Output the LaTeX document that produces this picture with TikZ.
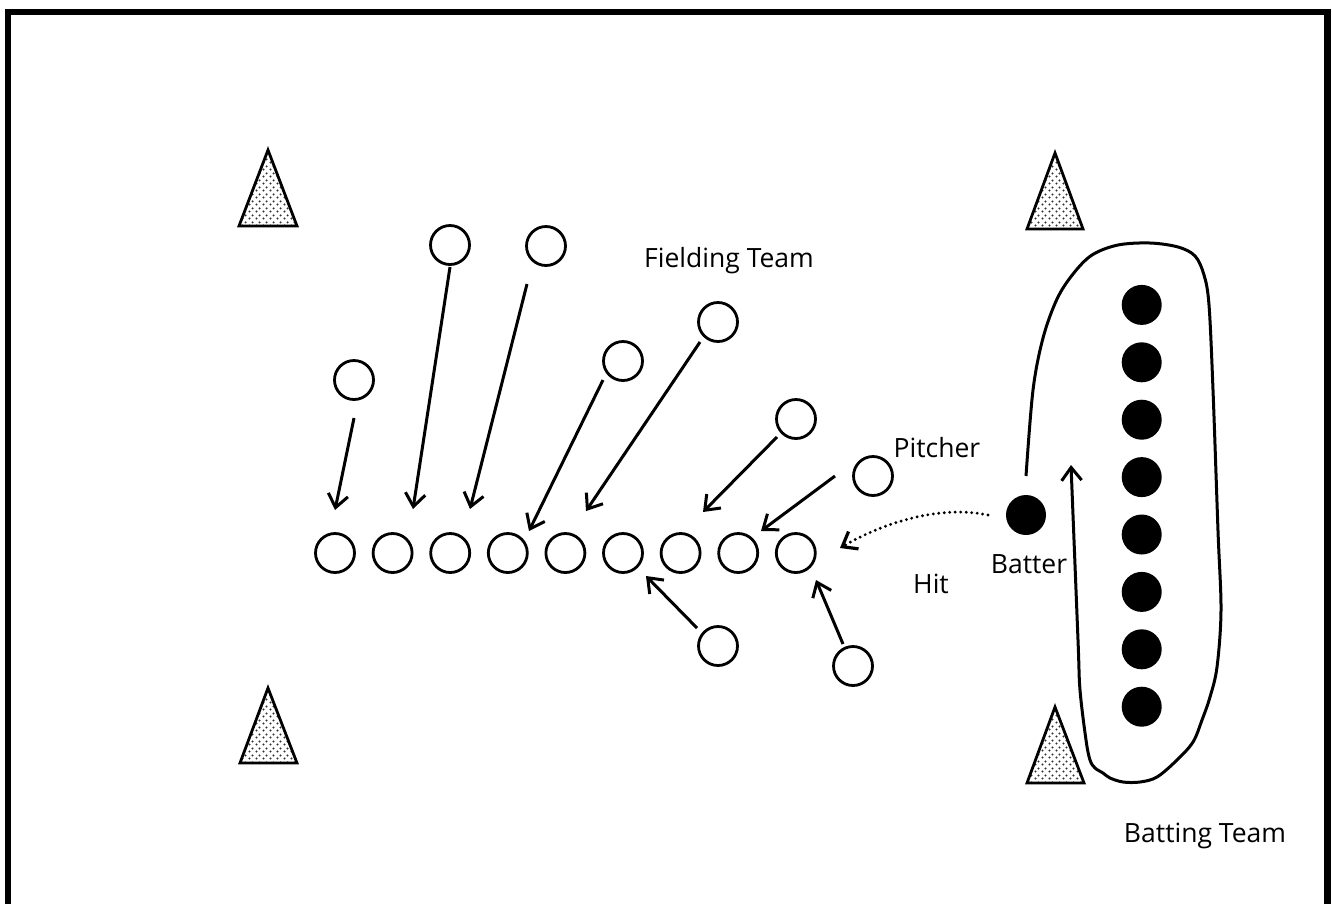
\documentclass[tikz,border=0pt]{standalone}
\usepackage{fontspec}
\setmainfont{Open Sans}
\usetikzlibrary{arrows.meta,patterns.meta}

% speckled fill used for the cones
\tikzdeclarepattern{
  name=conedots,
  type=colored,
  bottom left={(0pt,0pt)},
  top right={(6.5pt,6.5pt)},
  tile size={(6.5pt,6.5pt)},
  code={
    \fill[black!80] (1.6pt,1.6pt) circle (1.2pt);
    \fill[black!80] (4.85pt,4.85pt) circle (1.2pt);
  }
}

\tikzset{
  fielder/.style={circle, draw, line width=2.8pt, minimum size=39pt, inner sep=0pt},
  batsman/.style={circle, fill, minimum size=40pt, inner sep=0pt},
  arr/.style={line width=3pt, -{Straight Barb[length=13pt,width=20pt]}},
  hitline/.style={arr, line width=3.2pt, dash pattern=on 0pt off 5.5pt, line cap=round},
  cone/.style={draw, line width=2.8pt, line join=miter, pattern=conedots},
  lbl/.style={font=\fontsize{26.5}{30}\selectfont, inner sep=0pt, anchor=base},
  frame/.style={line width=6.5pt, line join=miter}
}

\begin{document}
\begin{tikzpicture}[x=1pt, y=-1pt]
\useasboundingbox (0,0) rectangle (1332,903);
\clip (0,0) rectangle (1332,903);

% field boundary (open at the bottom)
\draw[frame] (8,920) -- (8,12) -- (1327.5,12) -- (1327.5,920);

% corner cones
\draw[cone] (268,150) -- (239,226) -- (297,226) -- cycle;
\draw[cone] (1055,153) -- (1027,229) -- (1083,229) -- cycle;
\draw[cone] (268,688) -- (240,763) -- (297,763) -- cycle;
\draw[cone] (1055,707) -- (1027,783) -- (1084,783) -- cycle;

% fielders lined up after the hit
\foreach \i in {1,...,9}
  \node[fielder] (r\i) at ({335+57.6*(\i-1)},553) {};

% fielders in their starting positions
\node[fielder] (pA) at (354,380) {};
\node[fielder] (pB) at (450,245) {};
\node[fielder] (pC) at (546,246) {};
\node[fielder] (pD) at (623,361) {};
\node[fielder] (pE) at (718,322) {};
\node[fielder] (pF) at (796,419) {};
\node[fielder] (pG) at (873,476) {};
\node[fielder] (pH) at (718,646) {};
\node[fielder] (pI) at (853,666) {};

% arrow ends in front of the line
\coordinate (tA) at (335,510);
\coordinate (tB) at (413,509);
\coordinate (tC) at (470,509);
\coordinate (tD) at (529,531);
\coordinate (tE) at (586,511);
\coordinate (tF) at (703,512);
\coordinate (tG) at (761,531);
\coordinate (tH) at (646,576);
\coordinate (tI) at (816,580);
\coordinate (tHit) at (840,548);

% runs to the line
\draw[arr] ([shift={(0,38)}]pA.center) -- (tA);
\draw[arr] ([shift={(0,22)}]pB.center) -- (tB);
\draw[arr] ([shift={(-19,38)}]pC.center) -- (tC);
\draw[arr] ([shift={(-20,19)}]pD.center) -- (tD);
\draw[arr] ([shift={(-18,20)}]pE.center) -- (tE);
\draw[arr] ([shift={(-19,18)}]pF.center) -- (tF);
\draw[arr] ([shift={(-38,0)}]pG.center) -- (tG);
\draw[arr] ([shift={(-21,-18)}]pH.center) -- (tH);
\draw[arr] ([shift={(-10,-22)}]pI.center) -- (tI);

% batter and the batting queue
\node[batsman] (bat) at (1026,515) {};
\foreach \j in {1,...,8}
  \node[batsman] (q\j) at (1141.7,{304.9+57.4*(\j-1)}) {};

% the hit
\draw[hitline] ([shift={(-38,0)}]bat.center) .. controls (940,505) and (885,522) .. (tHit);

% batter's run around the queue
\draw[arr] plot[smooth, tension=0.55] coordinates {
  ([shift={(0,-39)}]bat.center)
  (1033,390) (1043,338) (1057,299) (1073,274) (1092,255) (1118,245) (1150,243)
  (1178,247) (1195,256) (1204,275) (1209,305) (1213,390) (1218,531) (1221,610)
  (1217,667) (1210,697) (1202,720) (1193,742) (1177,760) (1157,777) (1140,782)
  (1123,782) (1110,778) (1103,773) (1095,768) (1090,760) (1086,740) (1080,690)
  (1078,640) (1071,465)};

% labels
\node[lbl] (fieldlbl) at (729,267) {Fielding Team};
\node[lbl] (pitchlbl) at (937,457) {Pitcher};
\node[lbl] (hitlbl) at (931,593) {Hit};
\node[lbl] (batlbl) at (1029,573) {Batter};
\node[lbl] (battinglbl) at (1205,842) {Batting Team};
\end{tikzpicture}
\end{document}
